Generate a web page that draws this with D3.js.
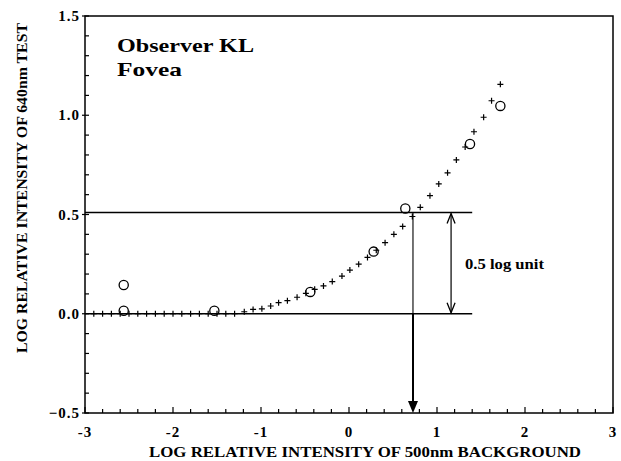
<!DOCTYPE html>
<html>
<head>
<meta charset="utf-8">
<script src="https://cdn.jsdelivr.net/npm/d3@7"></script>
<style>
    body { margin: 0; background: #fff; }
    svg { display: block; }
</style>
</head>
<body>
<div class="chart"></div>
<script>
//model curve (crosses)
var crossX = [-2.9, -2.8, -2.7, -2.6, -2.5, -2.4, -2.3, -2.2, -2.1, -2.0, -1.9, -1.8, -1.7, -1.6, -1.5, -1.4, -1.3,
    -1.19, -1.09, -0.99, -0.89, -0.8, -0.7, -0.59, -0.49, -0.39, -0.29, -0.19, -0.08, 0.01, 0.11, 0.21, 0.31,
    0.41, 0.51, 0.61, 0.72, 0.81, 0.92, 1.02, 1.12, 1.22, 1.32, 1.42, 1.53, 1.62, 1.72];
var crossY = [0, 0, 0, 0, 0, 0, 0, 0, 0, 0, 0, 0, 0, 0, 0, 0, 0,
    0.01, 0.022, 0.025, 0.039, 0.056, 0.066, 0.083, 0.103, 0.123, 0.14, 0.162, 0.19, 0.22, 0.25, 0.284, 0.32,
    0.358, 0.40, 0.44, 0.49, 0.536, 0.595, 0.654, 0.71, 0.775, 0.84, 0.917, 0.99, 1.073, 1.156];

//observer data (open circles)
var circX = [-2.56, -2.56, -1.53, -0.44, 0.28, 0.64, 1.375, 1.72];
var circY = [0.145, 0.015, 0.015, 0.11, 0.313, 0.53, 0.855, 1.047];

//reference lines and arrows
var refLevels = [0, 0.51];
var refEndX = 1.4;
var criterionX = 0.727;
var spanArrowX = 1.16;

//tick labels
var xTicks = [-3, -2, -1, 0, 1, 2, 3];
var yTicks = [-0.5, 0, 0.5, 1, 1.5];

var c = {
    width: 621,
    height: 461,
    left: 85,
    right: 613,
    top: 16,
    bottom: 413
};

var serif = "'Liberation Serif', 'Times New Roman', serif";

var svg = d3.select(".chart").append("svg")
    .attr("width", c.width)
    .attr("height", c.height);

var x = d3.scaleLinear()
    .domain([-3, 3])
    .range([c.left, c.right]);

var y = d3.scaleLinear()
    .domain([-0.5, 1.5])
    .range([c.bottom, c.top]);

//frame
svg.append("rect")
    .attr("x", c.left)
    .attr("y", c.top)
    .attr("width", c.right - c.left)
    .attr("height", c.bottom - c.top)
    .attr("fill", "none")
    .attr("stroke", "#000")
    .attr("stroke-width", 1.5);

//inside ticks on the left axis, every 0.1
var yMinor = d3.range(-5, 16).map(function (d) { return d / 10; });
svg.append("g").selectAll("line")
    .data(yMinor)
    .enter().append("line")
    .attr("x1", function (d) { return Math.abs(d * 2 - Math.round(d * 2)) < 1e-6 ? c.left - 3 : c.left; })
    .attr("x2", c.left + 4)
    .attr("y1", function (d) { return y(d); })
    .attr("y2", function (d) { return y(d); })
    .attr("stroke", "#000")
    .attr("stroke-width", 1.2);

//inside ticks on the bottom axis, every 0.2
var xMinor = d3.range(-15, 16).map(function (d) { return d / 5; });
svg.append("g").selectAll("line")
    .data(xMinor)
    .enter().append("line")
    .attr("x1", function (d) { return x(d); })
    .attr("x2", function (d) { return x(d); })
    .attr("y1", c.bottom)
    .attr("y2", function (d) { return Math.abs(d - Math.round(d)) < 1e-6 ? c.bottom - 6 : c.bottom - 4; })
    .attr("stroke", "#000")
    .attr("stroke-width", 1.2);

//tick labels
svg.append("g").selectAll("text")
    .data(yTicks)
    .enter().append("text")
    .attr("x", c.left - 5)
    .attr("y", function (d) { return y(d) + 5; })
    .attr("text-anchor", "end")
    .style("font-family", serif)
    .style("font-weight", "bold")
    .style("font-size", "15px")
    .style("letter-spacing", "1px")
    .text(function (d) { return d3.format(".1f")(d); });

svg.append("g").selectAll("text")
    .data(xTicks)
    .enter().append("text")
    .attr("x", function (d) { return x(d); })
    .attr("y", c.bottom + 24)
    .attr("text-anchor", "middle")
    .style("font-family", serif)
    .style("font-weight", "bold")
    .style("font-size", "15px")
    .style("letter-spacing", "1px")
    .text(function (d) { return d < 0 ? "-" + Math.abs(d) : d; });

//axis titles
svg.append("text")
    .attr("x", 365)
    .attr("y", 457)
    .attr("text-anchor", "middle")
    .attr("textLength", 432)
    .attr("lengthAdjust", "spacingAndGlyphs")
    .style("font-family", serif)
    .style("font-weight", "bold")
    .style("font-size", "15px")
    .text("LOG  RELATIVE  INTENSITY  OF  500nm  BACKGROUND");

svg.append("text")
    .attr("transform", "translate(27,188) rotate(-90)")
    .attr("text-anchor", "middle")
    .attr("textLength", 330)
    .attr("lengthAdjust", "spacingAndGlyphs")
    .style("font-family", serif)
    .style("font-weight", "bold")
    .style("font-size", "15px")
    .text("LOG  RELATIVE  INTENSITY  OF  640nm  TEST");

//observer label
svg.append("text")
    .attr("x", 117)
    .attr("y", 52)
    .attr("textLength", 137)
    .attr("lengthAdjust", "spacingAndGlyphs")
    .style("font-family", serif)
    .style("font-weight", "bold")
    .style("font-size", "19px")
    .text("Observer KL");

svg.append("text")
    .attr("x", 117)
    .attr("y", 76)
    .attr("textLength", 65)
    .attr("lengthAdjust", "spacingAndGlyphs")
    .style("font-family", serif)
    .style("font-weight", "bold")
    .style("font-size", "19px")
    .text("Fovea");

//horizontal reference lines
svg.append("g").selectAll("line")
    .data(refLevels)
    .enter().append("line")
    .attr("x1", x(-3))
    .attr("x2", x(refEndX))
    .attr("y1", function (d) { return y(d); })
    .attr("y2", function (d) { return y(d); })
    .attr("stroke", "#000")
    .attr("stroke-width", 1.6);

//criterion line down to the axis, thin above 0 and heavy below
svg.append("line")
    .attr("x1", x(criterionX))
    .attr("x2", x(criterionX))
    .attr("y1", y(refLevels[1]))
    .attr("y2", y(0))
    .attr("stroke", "#000")
    .attr("stroke-width", 1.1);

svg.append("line")
    .attr("x1", x(criterionX))
    .attr("x2", x(criterionX))
    .attr("y1", y(0))
    .attr("y2", c.bottom - 8)
    .attr("stroke", "#000")
    .attr("stroke-width", 2);

var ax = x(criterionX);
svg.append("path")
    .attr("d", "M" + (ax - 5) + "," + (c.bottom - 12) + "L" + (ax + 5) + "," + (c.bottom - 12) +
        "L" + ax + "," + c.bottom + "Z")
    .attr("fill", "#000");

//double headed arrow for 0.5 log unit
var sx = x(spanArrowX);
var sTop = y(refLevels[1]) + 1;
var sBot = y(0) - 1;
svg.append("line")
    .attr("x1", sx)
    .attr("x2", sx)
    .attr("y1", sTop)
    .attr("y2", sBot)
    .attr("stroke", "#000")
    .attr("stroke-width", 1.2);

svg.append("path")
    .attr("d", "M" + (sx - 4) + "," + (sTop + 10) + "L" + sx + "," + sTop + "L" + (sx + 4) + "," + (sTop + 10) +
        "M" + (sx - 4) + "," + (sBot - 10) + "L" + sx + "," + sBot + "L" + (sx + 4) + "," + (sBot - 10))
    .attr("fill", "none")
    .attr("stroke", "#000")
    .attr("stroke-width", 1.3);

svg.append("text")
    .attr("x", 465)
    .attr("y", 269)
    .attr("textLength", 79)
    .attr("lengthAdjust", "spacingAndGlyphs")
    .style("font-family", serif)
    .style("font-weight", "bold")
    .style("font-size", "15px")
    .text("0.5 log unit");

//crosses
var crosses = crossX.map(function (d, i) { return [d, crossY[i]]; });
svg.append("g").selectAll("path")
    .data(crosses)
    .enter().append("path")
    .attr("d", function (d) {
        var px = x(d[0]), py = y(d[1]);
        return "M" + (px - 3) + "," + py + "L" + (px + 3) + "," + py +
            "M" + px + "," + (py - 3) + "L" + px + "," + (py + 3);
    })
    .attr("stroke", "#000")
    .attr("stroke-width", 1.2);

//circles
var circles = circX.map(function (d, i) { return [d, circY[i]]; });
svg.append("g").selectAll("circle")
    .data(circles)
    .enter().append("circle")
    .attr("cx", function (d) { return x(d[0]); })
    .attr("cy", function (d) { return y(d[1]); })
    .attr("r", 4.6)
    .attr("fill", "none")
    .attr("stroke", "#000")
    .attr("stroke-width", 1.3);
</script>
</body>
</html>
